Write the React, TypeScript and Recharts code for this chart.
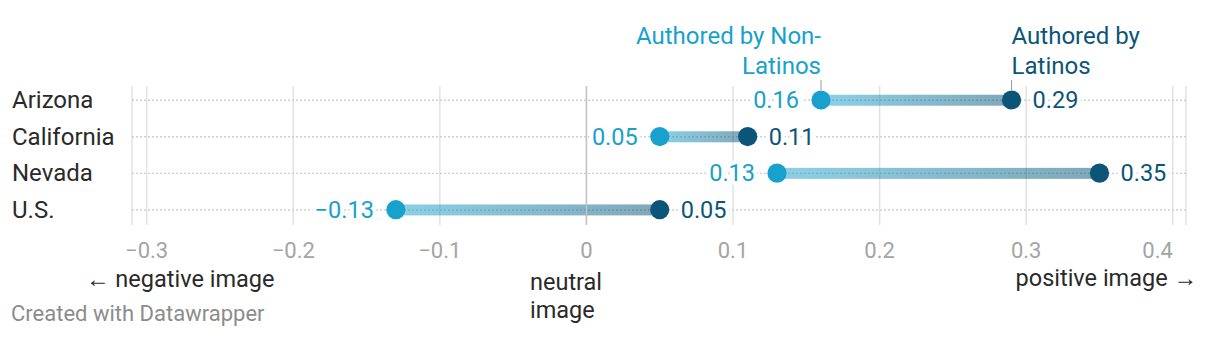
import React from 'react';
import { ComposedChart, Bar, Line, XAxis, YAxis, CartesianGrid, ReferenceLine, LabelList } from 'recharts';

const states = ['Arizona', 'California', 'Nevada', 'U.S.'];
const nonLatinos = [0.16, 0.05, 0.13, -0.13];
const latinos = [0.29, 0.11, 0.35, 0.05];
const xTicks = [-0.3, -0.2, -0.1, 0, 0.1, 0.2, 0.3, 0.4];

const data = states.map((s, i) => ({
  state: s,
  non: nonLatinos[i],
  lat: latinos[i],
  range: [nonLatinos[i], latinos[i]],
}));

const W = 1220;
const H = 338;
const LIGHT = '#18a1cd';
const DARK = '#0b5578';
const FONT = 'Roboto, sans-serif';
const TEXT = '#2a2a2a';
const LBL = 23.5;

const minus = '\u2212';
const fmtTick = (v: number) => (v === 0 ? '0' : (v < 0 ? minus : '') + Math.abs(v).toFixed(1));
const fmtVal = (v: number) => (v < 0 ? minus : '') + Math.abs(v).toFixed(2);

const XTick = (props: any) => {
  const { x, y, payload, index } = props;
  const isLast = index === xTicks.length - 1 || payload.value === xTicks[xTicks.length - 1];
  return (
    <text x={x} y={y + 25} textAnchor={isLast ? 'end' : 'middle'} fill="#a4a4a4" fontSize={22} fontFamily={FONT}>
      {fmtTick(payload.value)}
    </text>
  );
};

const YTick = (props: any) => {
  const { y, payload } = props;
  return (
    <text x={12} y={y + 8} textAnchor="start" fill={TEXT} fontSize={24} fontFamily={FONT}>
      {payload.value}
    </text>
  );
};

const RangeShape = (props: any) => {
  const { x, y, width, height } = props;
  return <rect x={x} y={y} width={width} height={height} fill="url(#rangeGrad)" />;
};

const DottedRow = (props: any) => {
  const { x, y, width, height } = props;
  const cy = y + height / 2;
  return (
    <line x1={x} x2={x + width} y1={cy} y2={cy} stroke="#cfcfcf" strokeWidth={1.4} strokeDasharray="2 2" />
  );
};

const labelPos = (p: any) => {
  const x = p.x ?? p.viewBox?.x;
  const y = p.y ?? p.viewBox?.y;
  return { x, y };
};

const LightLabel = (p: any) => {
  const { x, y } = labelPos(p);
  return (
    <text x={x - 22} y={y + 8} textAnchor="end" fill={LIGHT} fontSize={LBL} fontFamily={FONT}
      stroke="#fff" strokeWidth={8} paintOrder="stroke" strokeLinejoin="round">
      {fmtVal(p.value)}
    </text>
  );
};

const DarkLabel = (p: any) => {
  const { x, y } = labelPos(p);
  return (
    <text x={x + 21} y={y + 8} textAnchor="start" fill={DARK} fontSize={LBL} fontFamily={FONT}
      stroke="#fff" strokeWidth={8} paintOrder="stroke" strokeLinejoin="round">
      {fmtVal(p.value)}
    </text>
  );
};

const LightAnno = (p: any) => {
  if (p.index !== 0) return null;
  const { x, y } = labelPos(p);
  return (
    <g>
      <text x={x} y={y - 56} textAnchor="end" fill={LIGHT} fontSize={24} fontFamily={FONT}>Authored by Non-</text>
      <text x={x} y={y - 26} textAnchor="end" fill={LIGHT} fontSize={24} fontFamily={FONT}>Latinos</text>
      <line x1={x} x2={x} y1={y - 20} y2={y - 10} stroke="#999" strokeWidth={1} />
    </g>
  );
};

const DarkAnno = (p: any) => {
  if (p.index !== 0) return null;
  const { x, y } = labelPos(p);
  return (
    <g>
      <text x={x} y={y - 56} textAnchor="start" fill={DARK} fontSize={24} fontFamily={FONT}>Authored by</text>
      <text x={x} y={y - 26} textAnchor="start" fill={DARK} fontSize={24} fontFamily={FONT}>Latinos</text>
      <line x1={x} x2={x} y1={y - 20} y2={y - 10} stroke="#999" strokeWidth={1} />
    </g>
  );
};

export default function App() {
  return (
    <div style={{ position: 'absolute', left: 0, top: 0, width: W, height: H, background: '#fff', fontFamily: FONT }}>
      <ComposedChart
        width={W}
        height={H}
        data={data}
        layout="vertical"
        margin={{ top: 86, right: 34, bottom: 83, left: 12 }}
      >
        <defs>
          <linearGradient id="rangeGrad" x1="0" y1="0" x2="1" y2="0">
            <stop offset="0%" stopColor={LIGHT} stopOpacity={0.5} />
            <stop offset="100%" stopColor={DARK} stopOpacity={0.52} />
          </linearGradient>
        </defs>
        <CartesianGrid horizontal={false} stroke="#e2e2e2" strokeWidth={1.5} />
        <XAxis
          type="number"
          domain={[-0.31, 0.409]}
          ticks={xTicks}
          allowDataOverflow
          interval={0}
          axisLine={false}
          tickLine={false}
          tick={<XTick />}
          height={30}
        />
        <YAxis
          type="category"
          dataKey="state"
          width={120}
          axisLine={false}
          tickLine={false}
          tick={<YTick />}
          padding={{ top: -4.28, bottom: -3 }}
        />
        <ReferenceLine x={0} stroke="#c4c4c4" strokeWidth={1.5} />
        <Bar dataKey="range" barSize={11} isAnimationActive={false} shape={RangeShape} background={DottedRow} />
        <Line dataKey="non" stroke="none" dot={{ r: 9.6, fill: LIGHT, stroke: 'none' }} activeDot={false} isAnimationActive={false}>
          <LabelList dataKey="non" content={LightLabel} />
          <LabelList dataKey="non" content={LightAnno} />
        </Line>
        <Line dataKey="lat" stroke="none" dot={{ r: 9.6, fill: DARK, stroke: 'none' }} activeDot={false} isAnimationActive={false}>
          <LabelList dataKey="lat" content={DarkLabel} />
          <LabelList dataKey="lat" content={DarkAnno} />
        </Line>
      </ComposedChart>
      <svg width={W} height={H} style={{ position: 'absolute', left: 0, top: 0, pointerEvents: 'none' }}>
        <text x={86} y={287} fill={TEXT} fontSize={23.5} fontFamily={FONT}>← negative image</text>
        <text x={1197} y={286} textAnchor="end" fill={TEXT} fontSize={23.5} fontFamily={FONT}>positive image →</text>
        <text x={530} y={290} fill={TEXT} fontSize={23.5} fontFamily={FONT}>neutral</text>
        <text x={530} y={318} fill={TEXT} fontSize={23.5} fontFamily={FONT}>image</text>
        <text x={11} y={321} fill="#8c8c8c" fontSize={22} fontFamily={FONT}>Created with Datawrapper</text>
      </svg>
    </div>
  );
}
